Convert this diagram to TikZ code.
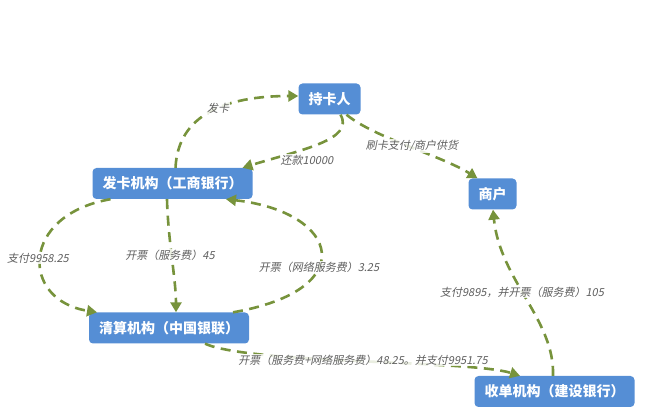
\documentclass[tikz,border=0pt]{standalone}
\usepackage{fontspec}
\setmainfont{Noto Sans CJK SC}
\newfontfamily\labfont[FakeSlant=0.2]{Noto Sans CJK SC}
\usetikzlibrary{arrows.meta}
\definecolor{boxblue}{HTML}{558ED5}
\definecolor{olive}{HTML}{77933C}
\definecolor{labgray}{HTML}{5F5F5F}
\tikzset{
  box/.style={fill=boxblue, rounded corners=4pt, text=white, font=\fontsize{14}{16}\selectfont\bfseries,
    minimum height=31pt, inner xsep=10pt, inner ysep=0pt},
  flow/.style={draw=olive, line width=2.6pt, dash pattern=on 10pt off 6.5pt,
    -{Triangle[length=10pt,width=11pt]}},
  lab/.style={text=labgray, font=\labfont\fontsize{11}{13}\selectfont, fill=white, fill opacity=0.85, text opacity=1, inner sep=1pt}
}
\begin{document}
\begin{tikzpicture}[x=1pt,y=-1pt]
\useasboundingbox (0,0) rectangle (648,419);
\node[box] (cr) at (329.5,99) {持卡人};
\node[box] (fk) at (172.5,183.5) {发卡机构（工商银行）};
\node[box] (sh) at (492.5,194) {商户};
\node[box] (qs) at (169,328) {清算机构（中国银联）};
\node[box] (sd) at (554.5,391.5) {收单机构（建设银行）};

\draw[flow] ([xshift=3pt]fk.north) .. controls (178,115) and (225,96) .. ([yshift=3pt]cr.west);
\draw[flow] ([xshift=11pt]cr.south) .. controls (355,140) and (300,150) .. ([xshift=70pt]fk.north);
\draw[flow] ([xshift=17pt]cr.south) .. controls (375,138) and (440,155) .. ([xshift=-15pt]sh.north);
\draw[flow] ([xshift=-62pt]fk.south) .. controls (20,215) and (20,300) .. ([xshift=-72pt]qs.north);
\draw[flow] ([xshift=-5.5pt]fk.south) .. controls (168,240) and (176,280) .. ([xshift=7pt]qs.north);
\draw[flow] ([xshift=64pt]qs.north) .. controls (362,290) and (340,212) .. ([xshift=53.5pt]fk.south);
\draw[flow] ([xshift=36pt]qs.south) .. controls (250,364) and (470,360) .. ([xshift=-34.5pt]sd.north);
\draw[flow] ([xshift=-1.5pt]sd.north) .. controls (555,320) and (500,280) .. ([xshift=0.5pt]sh.south);

\node[lab] (l1) at (218,108) {发卡};
\node[lab] (l2) at (307,160) {还款10000};
\node[lab] (l3) at (412,146) {刷卡支付/商户供货};
\node[lab] (l4) at (38,258) {支付9958.25};
\node[lab] (l5) at (170,255) {开票（服务费）45};
\node[lab] (l6) at (319,267) {开票（网络服务费）3.25};
\node[lab] (l7) at (363,360) {开票（服务费+网络服务费）48.25。并支付9951.75};
\node[lab] (l8) at (522,292) {支付9895，并开票（服务费）105};
\end{tikzpicture}
\end{document}
